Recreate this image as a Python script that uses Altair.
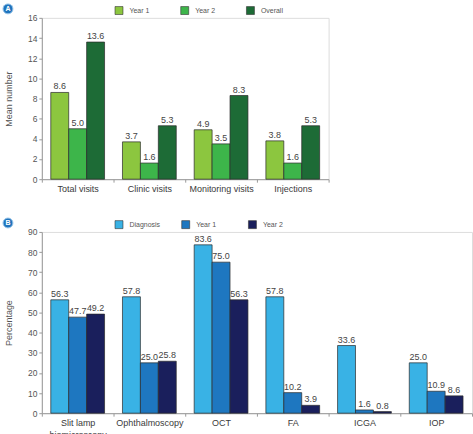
import altair as alt
import pandas as pd

# Panel A: mean number of visits / injections
visit_categories = ["Total visits", "Clinic visits", "Monitoring visits", "Injections"]
visit_series = ["Year 1", "Year 2", "Overall"]
visit_year1 = [8.6, 3.7, 4.9, 3.8]
visit_year2 = [5.0, 1.6, 3.5, 1.6]
visit_overall = [13.6, 5.3, 8.3, 5.3]
visit_colors = ["#8cc63f", "#3db54a", "#1d6b36"]

# Panel B: percentage of patients receiving each examination
exam_categories = ["Slit lamp\nbiomicroscopy", "Ophthalmoscopy", "OCT", "FA", "ICGA", "IOP"]
exam_series = ["Diagnosis", "Year 1", "Year 2"]
exam_diagnosis = [56.3, 57.8, 83.6, 57.8, 33.6, 25.0]
exam_year1 = [47.7, 25.0, 75.0, 10.2, 1.6, 10.9]
exam_year2 = [49.2, 25.8, 56.3, 3.9, 0.8, 8.6]
exam_colors = ["#39b2e5", "#1e77c0", "#1a1f5c"]


def long_table(categories, series, columns):
    rows = []
    for s, vals in zip(series, columns):
        for c, v in zip(categories, vals):
            rows.append({"category": c, "series": s, "value": v})
    return pd.DataFrame(rows)


def panel(df, categories, series, colors, ymax, ystep, ytitle, width, height,
          legend_x, col_pad, badge):
    x = alt.X("category:N", sort=categories, title=None,
              scale=alt.Scale(paddingInner=0, paddingOuter=0),
              axis=alt.Axis(labelAngle=0, labelFontSize=9, labelColor="#3a3a3a",
                            labelPadding=2, labelLineHeight=12,
                            tickBand="extent", tickSize=3,
                            tickColor="#999", domainColor="#999",
                            labelExpr="split(datum.label, '\\n')"))
    xoff = alt.XOffset("series:N", sort=series,
                       scale=alt.Scale(paddingInner=0, paddingOuter=0.5))
    y = alt.Y("value:Q", title=ytitle,
              scale=alt.Scale(domain=[0, ymax], nice=False),
              axis=alt.Axis(values=list(range(0, ymax + 1, ystep)), grid=False,
                            labelFontSize=8.5, labelColor="#555", tickSize=3,
                            tickColor="#999", domainColor="#999",
                            titleFontSize=9, titleFontWeight="normal",
                            titleColor="#555", titlePadding=14))
    color = alt.Color("series:N", sort=series,
                      scale=alt.Scale(domain=series, range=colors),
                      legend=alt.Legend(title=None, orient="none",
                                        legendX=legend_x, legendY=-12,
                                        padding=0,
                                        direction="horizontal", columns=3,
                                        gridAlign="all", columnPadding=col_pad,
                                        symbolType="square", symbolSize=64,
                                        symbolStrokeColor="#333",
                                        symbolStrokeWidth=0.6,
                                        symbolOpacity=1,
                                        labelFontSize=7, labelColor="#555",
                                        labelOffset=6))
    base = alt.Chart(df).encode(x=x, xOffset=xoff, y=y)
    bars = base.mark_bar(stroke="#2a2a2a", strokeWidth=0.7).encode(color=color)
    labels = base.mark_text(dy=-6, fontSize=9, color="#444").encode(
        text=alt.Text("value:Q", format=".1f"))
    badge_df = pd.DataFrame({"letter": [badge]})
    badge_circle = alt.Chart(badge_df).mark_circle(
        size=100, color="#1f74bd", opacity=1, stroke="#9cc7ea", strokeWidth=1
    ).encode(x=alt.value(-34), y=alt.value(-9))
    badge_text = alt.Chart(badge_df).mark_text(
        fontSize=7, fontWeight="bold", color="white"
    ).encode(x=alt.value(-34), y=alt.value(-8.5), text="letter:N")
    return alt.layer(bars, labels, badge_circle, badge_text).properties(
        width=width, height=height)


visits = long_table(visit_categories, visit_series,
                    [visit_year1, visit_year2, visit_overall])
exams = long_table(exam_categories, exam_series,
                   [exam_diagnosis, exam_year1, exam_year2])

top = panel(visits, visit_categories, visit_series, visit_colors, 16, 2,
            "Mean number", 288, 162, 73, 27, "A")
bottom = panel(exams, exam_categories, exam_series, exam_colors, 90, 10,
               "Percentage", 432, 182, 73, 20, "B")

chart = alt.vconcat(top, bottom, spacing=21).resolve_scale(
    color="independent", x="independent", y="independent", xOffset="independent"
).resolve_legend(color="independent").configure_view(
    fill="#f4f4f4", stroke=None
).configure(
    font="Liberation Sans", padding={"left": 0, "top": 0, "right": 0, "bottom": 0}
)

chart.save("out.html", embed_options={"renderer": "svg", "actions": False})
